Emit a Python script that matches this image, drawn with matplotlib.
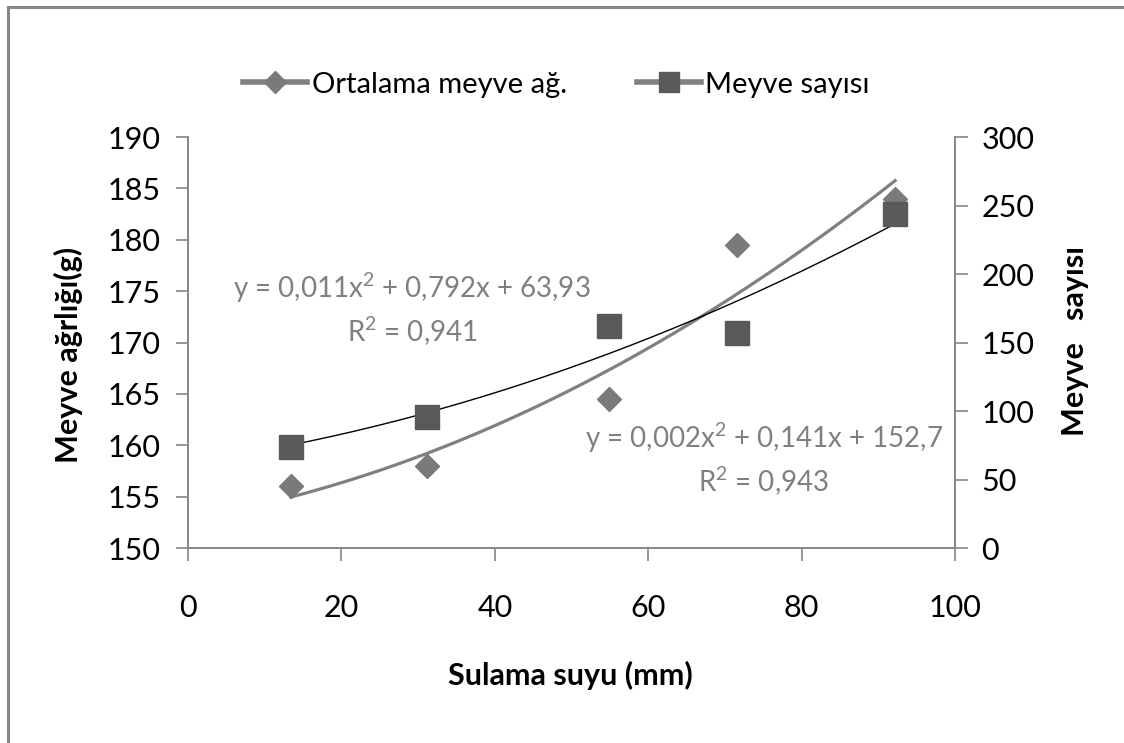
import numpy as np
import matplotlib.pyplot as plt
from matplotlib.lines import Line2D

plt.rcParams['font.family'] = ['Lato', 'DejaVu Sans']
plt.rcParams['mathtext.fontset'] = 'custom'
plt.rcParams['mathtext.rm'] = 'Lato'
plt.rcParams['mathtext.it'] = 'Lato:italic'
plt.rcParams['mathtext.bf'] = 'Lato:bold'

# Sulama suyu (mm)
sulama = [13.4, 31.2, 54.9, 71.6, 92.2]
# Ortalama meyve agirligi (g) - left axis
meyve_agirlik = [156.0, 158.0, 164.5, 179.5, 184.0]
# Meyve sayisi - right axis
meyve_sayisi = [74, 96, 162, 157, 244]

eq_agirlik = "y = 0,002x$^2$ + 0,141x + 152,7\nR$^2$ = 0,943"
eq_sayi = "y = 0,011x$^2$ + 0,792x + 63,93\nR$^2$ = 0,941"

spine_col = '#868686'
dia_col = '#7a7a7a'
sq_col = '#595959'
fs = 22

fig = plt.figure(figsize=(11.24, 7.43), dpi=100)
ax = fig.add_axes([0.1673, 0.2624, 0.6823, 0.5532])
ax2 = ax.twinx()

x = np.array(sulama)
xs = np.linspace(x.min(), x.max(), 200)

# trend lines (2nd order polynomial, like Excel)
p1 = np.polyfit(x, meyve_agirlik, 2)
ax.plot(xs, np.polyval(p1, xs), color='#808080', lw=2.3, zorder=2)
p2 = np.polyfit(x, meyve_sayisi, 2)
ax2.plot(xs, np.polyval(p2, xs), color='black', lw=1.0, zorder=2)

ax.plot(x, meyve_agirlik, linestyle='none', marker='D', ms=12.5,
        color=dia_col, zorder=3)
ax2.plot(x, meyve_sayisi, linestyle='none', marker='s', ms=17,
         color=sq_col, zorder=3)

ax.set_xlim(0, 100)
ax.set_ylim(150, 190)
ax2.set_ylim(0, 300)
ax.set_xticks(np.arange(0, 101, 20))
ax.set_yticks(np.arange(150, 191, 5))
ax2.set_yticks(np.arange(0, 301, 50))

for a in (ax, ax2):
    for s in a.spines.values():
        s.set_color(spine_col)
        s.set_linewidth(1.2)
    a.spines['top'].set_visible(False)
    a.tick_params(length=9, width=1.2, color=spine_col, labelsize=fs)
ax.tick_params(axis='y', pad=11)
ax2.tick_params(axis='y', pad=10)
ax.tick_params(axis='x', pad=24)

ax.set_xlabel("Sulama suyu (mm)", fontsize=22, fontweight='bold', va='center')
ax.xaxis.set_label_coords(0.498, -0.309)
ax.set_ylabel("Meyve ağrlığı(g)", fontsize=22, fontweight='bold', va='center')
ax.yaxis.set_label_coords(-0.156, 0.47)
ax2.set_ylabel("Meyve   sayısı", fontsize=22, fontweight='bold', va='center')
ax2.yaxis.set_label_coords(1.156, 0.504)

ax.text(75.1, 158.6, eq_agirlik, ha='center', va='center', fontsize=20,
        color='#808080', linespacing=1.35, multialignment='center')
ax.text(29.2, 173.2, eq_sayi, ha='center', va='center', fontsize=20,
        color='#808080', linespacing=1.35, multialignment='center')

handles = [
    Line2D([], [], color='#808080', lw=4, marker='D', ms=11,
           markerfacecolor=dia_col, markeredgecolor=dia_col),
    Line2D([], [], color='#808080', lw=4, marker='s', ms=15,
           markerfacecolor=sq_col, markeredgecolor=sq_col),
]
fig.legend(handles, ["Ortalama meyve ağ.", "Meyve sayısı"],
           loc='center', bbox_to_anchor=(0.495, 0.886), ncol=2,
           frameon=False, fontsize=21, handlelength=2.2,
           handletextpad=0.15, columnspacing=2.4)

# outer chart border (top and left visible)
fig.add_artist(Line2D([0.0075, 1.0], [0.99, 0.99], color=spine_col, lw=2.2,
                      transform=fig.transFigure))
fig.add_artist(Line2D([0.0075, 0.0075], [0.0, 0.99], color=spine_col, lw=2.2,
                      transform=fig.transFigure))

fig.savefig("out.png", dpi=100)
